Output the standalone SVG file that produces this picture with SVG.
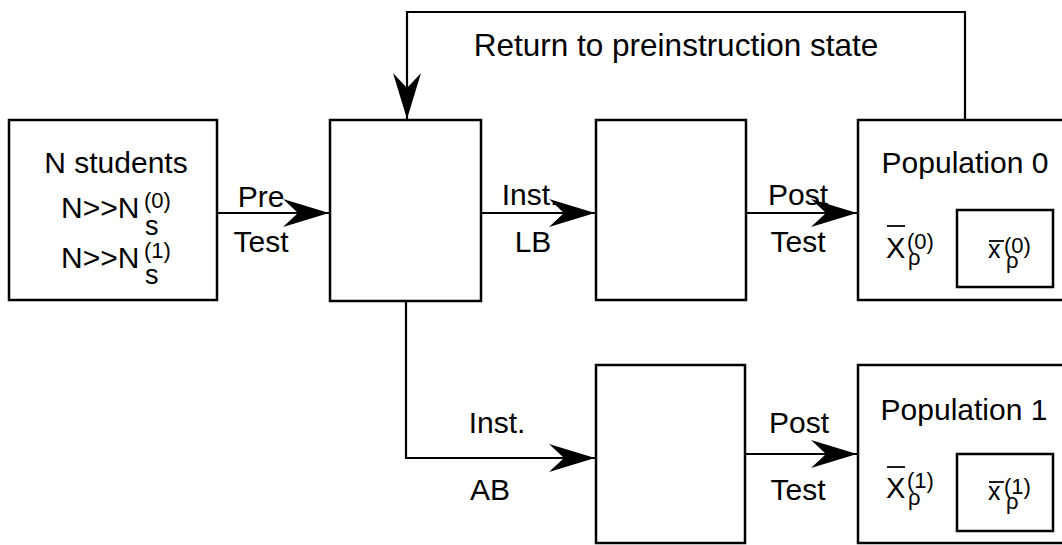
<svg xmlns="http://www.w3.org/2000/svg" width="1062" height="545" viewBox="0 0 1062 545">
<style>
.box{fill:#fff;stroke:#000;stroke-width:2.5}
.ln{fill:none;stroke:#000;stroke-width:2.2}
.bar{stroke:#000;stroke-width:1.8}
text{font-family:"Liberation Sans",Arial,sans-serif;fill:#000}
.t{font-size:30px}
.c{text-anchor:middle}
.sup{font-size:22px}
.sub{font-size:27px}
.rho{font-size:22px}
</style>
<defs>
<marker id="ah" viewBox="-47 -15 48 30" refX="0" refY="0" markerWidth="48" markerHeight="30" markerUnits="userSpaceOnUse" orient="auto">
<path d="M0,0 L-46,-14 L-31,0 L-46,14 Z" fill="#000"/>
</marker>
</defs>
<rect width="1062" height="545" fill="#fff"/>
<g id="connectors">
<path class="ln" d="M965,120 V12 H407 V119" marker-end="url(#ah)"/>
<line class="ln" x1="217" y1="213" x2="329" y2="213" marker-end="url(#ah)"/>
<line class="ln" x1="481" y1="213" x2="595" y2="213" marker-end="url(#ah)"/>
<line class="ln" x1="746" y1="213" x2="857" y2="213" marker-end="url(#ah)"/>
<path class="ln" d="M406,301 V458 H595" marker-end="url(#ah)"/>
<line class="ln" x1="745" y1="454" x2="857" y2="454" marker-end="url(#ah)"/>
<text class="t" x="676" y="56" style="font-size:31.5px" text-anchor="middle">Return to preinstruction state</text>
<text class="t c" x="261" y="207">Pre</text>
<text class="t c" x="261" y="252">Test</text>
<text class="t c" x="530" y="205">Inst.</text>
<text class="t c" x="533" y="252">LB</text>
<text class="t c" x="798" y="205">Post</text>
<text class="t c" x="798" y="252">Test</text>
<text class="t c" x="497" y="433">Inst.</text>
<text class="t c" x="490" y="500">AB</text>
<text class="t c" x="799" y="433">Post</text>
<text class="t c" x="798" y="500">Test</text>
</g>
<g id="students">
<rect class="box" x="9" y="120" width="208" height="180"/>
<text class="t c" x="116" y="173">N students</text>
<text class="t" x="61" y="218">N&gt;&gt;N<tspan class="sup" x="144" y="208">(0)</tspan><tspan class="sub" x="145" y="235">s</tspan></text>
<text class="t" x="61" y="268">N&gt;&gt;N<tspan class="sup" x="144" y="258">(1)</tspan><tspan class="sub" x="145" y="284">s</tspan></text>
</g>
<g id="pretest">
<rect class="box" x="330" y="120" width="151" height="181"/>
</g>
<g id="lb">
<rect class="box" x="596" y="120" width="150" height="180"/>
</g>
<g id="ab">
<rect class="box" x="596" y="365" width="149" height="178"/>
</g>
<g id="pop0">
<rect class="box" x="858" y="120" width="220" height="180"/>
<text class="t c" x="965" y="173">Population 0</text>
<text class="t" x="886" y="258" style="font-size:29px">X<tspan class="sup" x="907" y="249">(0)</tspan><tspan class="rho" x="908" y="265">ρ</tspan></text>
<line class="bar" x1="887" y1="226" x2="905" y2="226"/>
<rect class="box" x="957" y="210" width="96" height="77"/>
<text x="988" y="258" style="font-size:25px">x<tspan class="sup" x="1004" y="253">(0)</tspan><tspan class="rho" x="1006" y="268">ρ</tspan></text>
<line class="bar" x1="989" y1="241" x2="1004" y2="241"/>
</g>
<g id="pop1">
<rect class="box" x="858" y="365" width="220" height="178"/>
<text class="t c" x="964" y="420">Population 1</text>
<text class="t" x="886" y="498" style="font-size:29px">X<tspan class="sup" x="907" y="488">(1)</tspan><tspan class="rho" x="908" y="505">ρ</tspan></text>
<line class="bar" x1="887" y1="467" x2="905" y2="467"/>
<rect class="box" x="957" y="454" width="96" height="77"/>
<text x="988" y="500" style="font-size:25px">x<tspan class="sup" x="1004" y="494">(1)</tspan><tspan class="rho" x="1006" y="509">ρ</tspan></text>
<line class="bar" x1="989" y1="482" x2="1004" y2="482"/>
</g>
</svg>
